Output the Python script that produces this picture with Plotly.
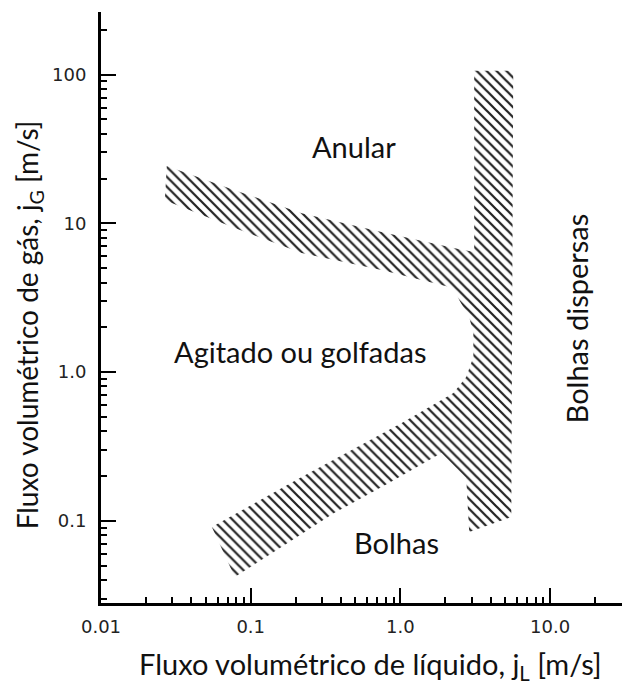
import plotly.graph_objects as go

# Boundary of the hatched transition zone (jL, jG in m/s), traced clockwise
jl_zone = [0.0275, 0.0782, 0.219, 0.747, 2.44, 3.11, 3.11, 5.67, 5.5, 2.88,
           2.75, 1.88, 0.832, 0.363, 0.0782, 0.055, 0.219, 1.02, 1.88, 2.26,
           2.75, 3.07, 3.07, 2.88, 2.47, 2.26, 0.747, 0.219, 0.0782, 0.0267]
jg_zone = [24.3, 16.7, 11.7, 8.74, 6.72, 6.41, 106, 106, 0.106, 0.084,
           0.194, 0.285, 0.179, 0.113, 0.0418, 0.0907, 0.197, 0.454, 0.648, 0.722,
           0.925, 1.26, 1.83, 2.34, 3.05, 3.67, 4.85, 6.31, 9.30, 14.3]

# Axis ticks
x_major = [0.01, 0.1, 1, 10]
x_major_text = ["0.01", "0.1", "1.0", "10.0"]
y_major = [0.1, 1, 10, 100]
y_major_text = ["0.1", "1.0", "10", "100"]
x_minor = [m * d for d in (0.01, 0.1, 1, 10) for m in range(2, 10) if m * d <= 30]
y_minor = [m * d for d in (0.01, 0.1, 1, 10, 100) for m in range(2, 10)
           if 0.028 <= m * d <= 260]

# Regime labels: text, paper x, paper y, rotation
regimes = [
    ("Anular", 0.485, 0.773, 0),
    ("Agitado ou golfadas", 0.382, 0.425, 0),
    ("Bolhas", 0.568, 0.103, 0),
    ("Bolhas dispersas", 0.913, 0.481, -90),
]

x_title = "Fluxo volumétrico de líquido, j<sub>L</sub> [m/s]"
y_title = "Fluxo volumétrico de gás, j<sub>G</sub> [m/s]"

fig = go.Figure()
fig.add_trace(go.Scatter(
    x=jl_zone + [jl_zone[0]], y=jg_zone + [jg_zone[0]],
    mode="lines", fill="toself",
    line=dict(width=0, color="rgba(0,0,0,0)"),
    fillcolor="rgba(0,0,0,0)",
    fillpattern=dict(shape="\\", size=7, solidity=0.32,
                     fgcolor="#222222", fillmode="replace"),
    hoverinfo="skip", showlegend=False,
))

label_font = dict(family="Lato", size=29, color="#111111")
for text, xp, yp, rot in regimes:
    fig.add_annotation(text=text, x=xp, y=yp, xref="paper", yref="paper",
                       xanchor="center", yanchor="middle",
                       showarrow=False, textangle=rot, font=label_font)

fig.add_annotation(text=x_title, x=0.518, y=-0.105, xref="paper", yref="paper",
                   xanchor="center", yanchor="middle",
                   showarrow=False, font=dict(family="Lato", size=29, color="#111111"))
fig.add_annotation(text=y_title, x=-0.138, y=0.47, xref="paper", yref="paper",
                   xanchor="center", yanchor="middle",
                   showarrow=False, textangle=-90,
                   font=dict(family="Lato", size=28, color="#111111"))

tick_font = dict(family="DejaVu Sans", size=18, color="#222222")
axis_common = dict(
    type="log", showgrid=False, zeroline=False,
    showline=True, linecolor="black", linewidth=3,
    ticks="inside", ticklen=15, tickwidth=2, tickcolor="black",
    tickfont=tick_font,
)
fig.update_xaxes(
    range=[-2.0, 1.48], tickmode="array", tickvals=x_major, ticktext=x_major_text,
    minor=dict(tickmode="array", tickvals=x_minor, ticks="inside", ticklen=6,
               tickwidth=2, tickcolor="black"),
    ticklabelstandoff=5, **axis_common,
)
fig.update_yaxes(
    range=[-1.553, 2.421], tickmode="array", tickvals=y_major, ticktext=y_major_text,
    minor=dict(tickmode="array", tickvals=y_minor, ticks="inside", ticklen=6,
               tickwidth=2, tickcolor="black"),
    ticklabelstandoff=8, **axis_common,
)

fig.update_layout(
    width=622, height=684,
    margin=dict(l=101, r=0, t=12, b=81),
    plot_bgcolor="white", paper_bgcolor="white",
    showlegend=False,
)

fig.write_html("out.html")
